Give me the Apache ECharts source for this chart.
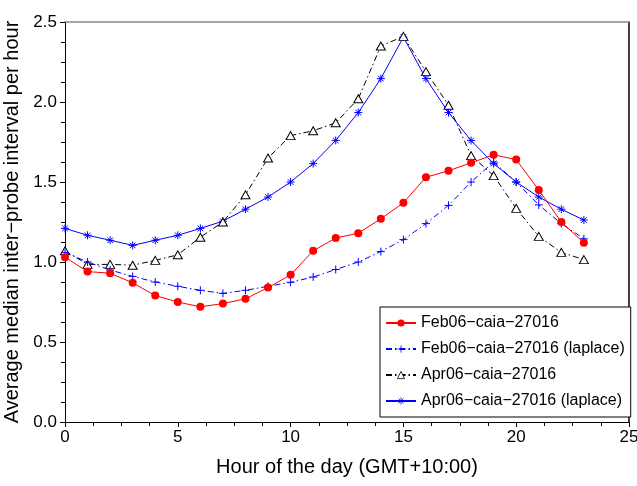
<!DOCTYPE html>
<html>
<head>
<meta charset="utf-8">
<script src="https://cdn.jsdelivr.net/npm/echarts@6/dist/echarts.min.js"></script>
<style>
html,body{margin:0;padding:0;background:#fff;}
#c{width:637px;height:486px;}
</style>
</head>
<body>
<div id="c"></div>
<script>
const hours = [0,1,2,3,4,5,6,7,8,9,10,11,12,13,14,15,16,17,18,19,20,21,22,23];
const feb06 = [1.03,0.94,0.93,0.87,0.79,0.75,0.72,0.74,0.77,0.84,0.92,1.07,1.15,1.18,1.27,1.37,1.53,1.57,1.62,1.67,1.64,1.45,1.25,1.12];
const feb06Laplace = [1.06,1.00,0.95,0.91,0.875,0.848,0.823,0.804,0.823,0.848,0.873,0.906,0.953,1.00,1.065,1.14,1.24,1.354,1.50,1.625,1.50,1.357,1.24,1.145];
const apr06 = [1.07,0.985,0.985,0.98,1.01,1.045,1.155,1.25,1.42,1.65,1.79,1.82,1.87,2.02,2.35,2.41,2.19,1.98,1.665,1.54,1.335,1.16,1.06,1.015];
const apr06Laplace = [1.21,1.167,1.136,1.104,1.136,1.167,1.21,1.255,1.33,1.406,1.50,1.615,1.76,1.934,2.146,2.406,2.146,1.934,1.759,1.615,1.50,1.406,1.33,1.262];
const seriesNames = ['Feb06\u2212caia\u221227016','Feb06\u2212caia\u221227016 (laplace)','Apr06\u2212caia\u221227016','Apr06\u2212caia\u221227016 (laplace)'];
const xTitle = 'Hour of the day (GMT+10:00)';
const yTitle = 'Average median inter\u2212probe interval per hour';

const pair = arr => hours.map((h,i)=>[h,arr[i]]);
const FONT = '"Liberation Sans", Arial, Helvetica, sans-serif';
const plusPath = 'path://M0,5L10,5M5,0L5,10';
const starPath = 'path://M0,5L10,5M5,0L5,10M1.5,1.5L8.5,8.5M1.5,8.5L8.5,1.5';
const dashDot = [6,3,1.5,3];

const chart = echarts.init(document.getElementById('c'));
chart.setOption({
  animation:false,
  backgroundColor:'#fff',
  grid:{left:65,right:8,top:22,bottom:64,containLabel:false,outerBoundsMode:'none'},
  legend:{
    orient:'vertical', left:380, top:307,
    itemWidth:30, itemHeight:9, itemGap:10,
    padding:[8,6,8,5],
    borderColor:'#000', borderWidth:1, backgroundColor:'#fff',
    itemStyle:{borderWidth:0.8},
    textStyle:{fontFamily:FONT,fontSize:16,color:'#000',lineHeight:16,padding:[0,0,0,0]},
    data:seriesNames
  },
  xAxis:[{
    type:'value', min:0, max:25, interval:5,
    name:xTitle, nameLocation:'middle', nameGap:35,
    nameTextStyle:{fontFamily:FONT,fontSize:20,color:'#000'},
    axisLine:{show:true,onZero:false,lineStyle:{color:'#000',width:1}},
    axisTick:{show:true,inside:false,length:5,lineStyle:{color:'#000'}},
    minorTick:{show:true,splitNumber:4,length:4,lineStyle:{color:'#000'}},
    axisLabel:{fontFamily:FONT,fontSize:17,color:'#000',margin:7},
    splitLine:{show:false}
  },{
    type:'value', position:'top', min:0, max:25,
    axisLine:{show:true,onZero:false,lineStyle:{color:'#888',width:1.5}},
    axisTick:{show:false}, axisLabel:{show:false}, splitLine:{show:false}
  }],
  yAxis:[{
    type:'value', min:0, max:2.5, interval:0.5,
    name:yTitle, nameLocation:'middle', nameGap:37,
    nameTextStyle:{fontFamily:FONT,fontSize:20,color:'#000'},
    axisLine:{show:true,onZero:false,lineStyle:{color:'#000',width:1}},
    axisTick:{show:true,inside:false,length:5,lineStyle:{color:'#000'}},
    minorTick:{show:true,splitNumber:4,length:4,lineStyle:{color:'#000'}},
    axisLabel:{fontFamily:FONT,fontSize:17,color:'#000',margin:8,formatter:v=>v.toFixed(1)},
    splitLine:{show:false}
  },{
    type:'value', position:'right', min:0, max:2.5,
    axisLine:{show:true,onZero:false,lineStyle:{color:'#000',width:1.5}},
    axisTick:{show:false}, axisLabel:{show:false}, splitLine:{show:false}
  }],
  series:[
    {name:seriesNames[0],type:'line',data:pair(feb06),symbol:'circle',symbolSize:8,
     lineStyle:{color:'#ff0000',width:1},itemStyle:{color:'#ff0000'},z:5},
    {name:seriesNames[1],type:'line',data:pair(feb06Laplace),symbol:plusPath,symbolSize:8,
     lineStyle:{color:'#0000ff',width:1,type:dashDot},itemStyle:{color:'#0000ff',borderColor:'#0000ff',borderWidth:1},z:4},
    {name:seriesNames[2],type:'line',data:pair(apr06),symbol:'triangle',symbolSize:[9,8],
     lineStyle:{color:'#000',width:1,type:dashDot},itemStyle:{color:'#fff',borderColor:'#000',borderWidth:1},z:3},
    {name:seriesNames[3],type:'line',data:pair(apr06Laplace),symbol:starPath,symbolSize:8,
     lineStyle:{color:'#0000ff',width:1},itemStyle:{color:'#0000ff',borderColor:'#0000ff',borderWidth:1},z:2}
  ]
});
</script>
</body>
</html>
